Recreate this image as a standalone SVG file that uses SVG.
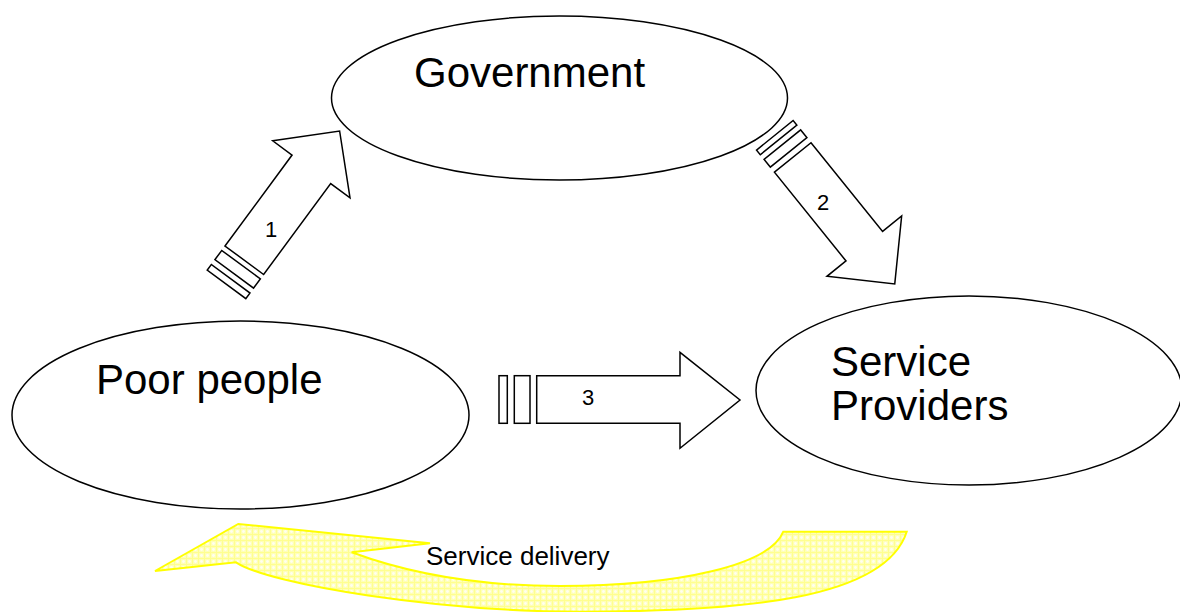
<svg xmlns="http://www.w3.org/2000/svg" width="1180" height="612" viewBox="0 0 1180 612">
  <defs>
    <style>
      .node { fill: #ffffff; stroke: #000000; stroke-width: 1.5; }
      .label { font-family: "Liberation Sans", Arial, sans-serif; fill: #000000; }
      .big { font-size: 42px; }
      .num { font-size: 22px; text-anchor: middle; }
      .small { font-size: 26px; }
      .block { fill: #ffffff; stroke: #000000; stroke-width: 1.5; stroke-linejoin: miter; }
      .loop { fill: url(#dots); stroke: #ffff00; stroke-width: 2; stroke-linejoin: miter; }
    </style>
    <!-- pale yellow dotted fill for the return arrow -->
    <pattern id="dots" width="6" height="6" patternUnits="userSpaceOnUse">
      <rect width="6" height="6" fill="#ffffb8"/>
      <path d="M0,0.5 H6 M0.5,0 V6" stroke="#ffff90" stroke-width="1"/>
      <circle cx="3.5" cy="3.5" r="1.4" fill="#fffff0"/>
    </pattern>
    <!-- striped-tail block arrow: shaft, head, two stripes behind -->
    <g id="arrowA">
      <path class="block" d="M0,0 L113,0 L113,-24 L160.6,24 L113,72 L113,48 L0,48 Z"/>
      <rect class="block" x="-17" y="0" width="11.5" height="48"/>
      <rect class="block" x="-30" y="0" width="7" height="48"/>
    </g>
  </defs>

  <rect width="1180" height="612" fill="#ffffff"/>

  <!-- nodes -->
  <g id="government">
    <ellipse class="node" cx="559.5" cy="98" rx="228" ry="82"/>
    <text class="label big" x="414" y="87">Government</text>
  </g>
  <g id="poor-people">
    <ellipse class="node" cx="240.5" cy="415" rx="228.5" ry="94"/>
    <text class="label big" x="96" y="394">Poor people</text>
  </g>
  <g id="service-providers">
    <ellipse class="node" cx="969" cy="390.5" rx="213" ry="94.5"/>
    <text class="label big" x="831" y="376">Service</text>
    <text class="label big" x="831" y="420">Providers</text>
  </g>

  <!-- connectors -->
  <g id="connectors">
    <!-- 1: poor people to government -->
    <g transform="translate(225,246) rotate(-53.6)">
      <use href="#arrowA"/>
    </g>
    <text class="label num" x="271" y="237">1</text>

    <!-- 2: government to service providers -->
    <g transform="translate(811,142.7) rotate(51.1)">
      <path class="block" d="M0,0 L114,0 L114,-24.5 L162.5,23.5 L114,71.5 L114,47 L0,47 Z"/>
      <rect class="block" x="-16.5" y="0" width="10" height="47"/>
      <rect class="block" x="-28.5" y="0" width="6" height="47"/>
    </g>
    <text class="label num" x="823" y="210">2</text>

    <!-- 3: poor people to service providers -->
    <g transform="translate(536.7,375.7)">
      <path class="block" d="M0,0 L143.3,0 L143.3,-23.4 L203.3,24.3 L143.3,72.6 L143.3,47.6 L0,47.6 Z"/>
      <rect class="block" x="-22.4" y="0" width="15.7" height="47.6"/>
      <rect class="block" x="-37.7" y="0" width="8.3" height="47.6"/>
    </g>
    <text class="label num" x="588" y="405">3</text>

    <!-- service delivery loop back to poor people -->
    <path class="loop" d="M783.3,531.7 C770,565 680,586 560,586 C480,586 410,574 351.7,552.3 L430,543.3 L238.3,524 L155,571 L236,562.3 C270,585 440,611.7 580,611.7 C740,611.7 885,600 906.7,531.7 Z"/>
    <text class="label small" x="426" y="565">Service delivery</text>
  </g>
</svg>
